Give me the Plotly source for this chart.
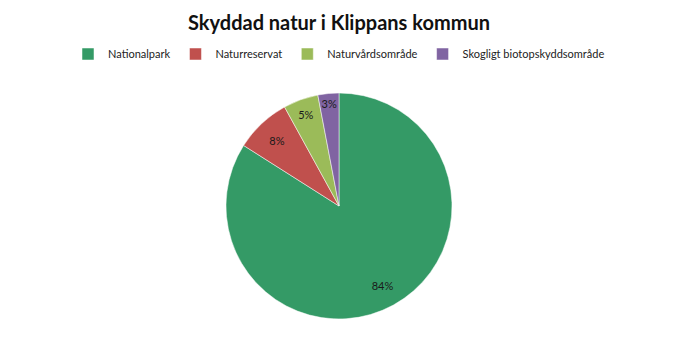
import plotly.graph_objects as go

labels = ["Nationalpark", "Naturreservat", "Naturvårdsområde", "Skogligt biotopskyddsområde"]
values = [84, 8, 5, 3]
colors = ["#349A66", "#C0504D", "#9BBB59", "#8064A2"]

font_family = "Lato, Open Sans, sans-serif"

fig = go.Figure()
fig.add_trace(go.Pie(
    labels=labels,
    values=values,
    sort=False,
    direction="clockwise",
    rotation=0,
    marker=dict(colors=colors, line=dict(color="white", width=0.5)),
    textinfo="none",
    hoverinfo="label+percent",
))
# transparent ring used only to place the percentage labels near the rim
fig.add_trace(go.Pie(
    labels=labels,
    values=values,
    sort=False,
    direction="clockwise",
    rotation=0,
    hole=0.6,
    marker=dict(colors=["rgba(0,0,0,0)"] * len(values), line=dict(width=0)),
    textinfo="percent",
    texttemplate="%{percent:.0%}",
    textposition="inside",
    insidetextorientation="horizontal",
    textfont=dict(family=font_family, size=11, color="#1a1a1a"),
    hoverinfo="skip",
    showlegend=False,
))

fig.update_layout(
    width=678, height=358,
    margin=dict(l=0, r=0, t=93, b=39),
    paper_bgcolor="white",
    plot_bgcolor="white",
    title=dict(text="<b>Skyddad natur i Klippans kommun</b>",
               x=0.5, xanchor="center", y=1 - 23/358, yanchor="middle", yref="container",
               font=dict(family=font_family, size=20, color="#111111")),
    legend=dict(orientation="h", x=0.5, xanchor="center", y=(319 - 54) / 226, yanchor="middle",
                font=dict(family=font_family, size=11, color="#222222"),
                itemwidth=30, traceorder="normal"),
    uniformtext=dict(minsize=11, mode="show"),
)

fig.write_html("out.html")
